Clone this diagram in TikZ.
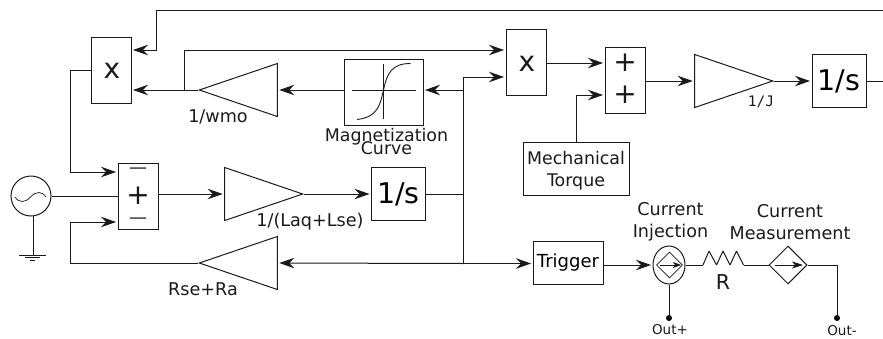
\documentclass[tikz,border=0pt]{standalone}
\usepackage{fontspec}
\setmainfont{DejaVu Sans}
\newfontfamily\monof{DejaVu Sans Mono}
\usetikzlibrary{arrows.meta,shapes.geometric}
\definecolor{ink}{HTML}{1A1A1A}
\tikzset{
  x=1pt,y=-1pt,
  wire/.style={draw=ink,line width=1pt},
  arr/.style={wire,-{Stealth[length=15pt,width=10.5pt,inset=5pt]},shorten >=1.5pt},
  boxn/.style={draw=ink,line width=1pt,rectangle,inner sep=0pt,font=\fontsize{17}{22}\selectfont,align=center},
  mulbox/.style={boxn,minimum width=40pt,minimum height=66pt},
  intbox/.style={boxn,minimum width=54pt,minimum height=53pt,font=\fontsize{28.5}{30}\selectfont},
  tri/.style={draw=ink,line width=1pt,isosceles triangle,isosceles triangle stretches,inner sep=0pt,minimum width=53pt,minimum height=78pt,anchor=apex},
  lab/.style={inner sep=0pt,font=\fontsize{17.6}{22}\selectfont,align=center,text=ink},
  big/.style={inner sep=0pt,font=\fontsize{28}{30}\selectfont,text=ink},
  dashn/.style={inner sep=0pt,font=\fontsize{18}{20}\selectfont,text=ink},
  dotn/.style={circle,fill=black,inner sep=0pt,minimum size=6pt},
}
\begin{document}
\begin{tikzpicture}
\useasboundingbox (0,0) rectangle (883,338);
% blocks
\node[mulbox] (xa) at (111,70) {};
\node[big] (xat) at (112,71) {x};
\node[mulbox] (xb) at (526,62) {};
\node[big] (xbt) at (527,64) {x};
\node[mulbox] (sumb) at (625,80) {};
\node[big] (pa) at (625,63) {+};
\node[big] (pb) at (625,95) {+};
\node[mulbox] (suma) at (138,196) {};
\node[dashn] (ma) at (138,171) {—};
\node[big] (pc) at (138,196) {+};
\node[dashn] (mb) at (138,221) {—};
\node[tri,shape border rotate=180] (gwmo) at (198,90) {};
\node[tri,shape border rotate=180] (grs) at (198,263) {};
\node[tri] (gl) at (304,194) {};
\node[tri] (gj) at (774,81) {};
\node[intbox] (inta) at (398.5,194) {1/s};
\node[intbox] (intb) at (839,81) {1/s};
\node[boxn,minimum width=79pt,minimum height=66pt] (mag) at (383.5,92) {};
\node[boxn,minimum width=106pt,minimum height=53pt] (mech) at (576,168.5) {};
\node[lab,font=\fontsize{17.4}{22}\selectfont] (mecht) at (576,171) {Mechanical\\Torque};
\node[boxn,minimum width=70pt,minimum height=43pt,font=\fontsize{18}{22}\selectfont] (trig) at (568,262.5) {Trigger};
\node[draw=ink,line width=1pt,circle,inner sep=0pt,minimum size=40pt] (src) at (31,196) {};
\node[draw=ink,line width=1pt,ellipse,inner sep=0pt,minimum width=32pt,minimum height=38pt] (inj) at (669,265) {};
\node[draw=ink,line width=.8pt,diamond,inner sep=0pt,minimum width=26pt,minimum height=26pt] (injd) at (669.5,265) {};
\node[draw=ink,line width=1pt,diamond,inner sep=0pt,minimum width=38pt,minimum height=38pt] (meas) at (788,265) {};
\node[dotn] (outp) at (669,318) {};
\node[dotn] (outm) at (837,318) {};
% labels
\node[lab] (lwmo) at (218,117) {1/wmo};
\node[lab] (lrs) at (203,289) {Rse+Ra};
\node[lab] (ll) at (310,222) {1/(Laq+Lse)};
\node[inner sep=0pt,font=\monof\fontsize{14.5}{16}\selectfont,text=ink] (lj) at (761,102) {1/J};
\node[lab,font=\fontsize{17.4}{17}\selectfont] (lmag) at (386.5,142) {Magnetization\\[-4pt]Curve};
\node[lab] (linj) at (670.5,222) {Current\\Injection};
\node[lab] (lmeas) at (790,222) {Current\\Measurement};
\node[lab,font=\fontsize{20.5}{22}\selectfont] (lr) at (723,282) {R};
\node[inner sep=0pt,font=\fontsize{13.5}{15}\selectfont,text=ink] (lop) at (670,330) {Out+};
\node[inner sep=0pt,font=\fontsize{13.5}{15}\selectfont,text=ink] (lom) at (842,330.5) {Out-};
% junctions
\coordinate (jtop) at (883,10);
\coordinate (jtopb) at (156,10);
\coordinate (jw) at (184,90);
\coordinate (jfl) at (463,90);
\coordinate (jfo) at (463,194);
\coordinate (jfb) at (463,263.5);
\coordinate (jfx) at (463,77);
\coordinate (jfa) at (505,50);
\coordinate (jq) at (70,172);
\coordinate (jr) at (70,222);
\coordinate (outr) at (883,81);
\coordinate (ra) at (703,265);
\coordinate (rb) at (743.5,265);
% top feedback
\draw[arr] (jtop) -- (jtopb) -- ++(0,40) -- (xa.east |- 131,50);
% flux loop
\draw[arr] (gwmo.apex) -- (xa.east |- gwmo.apex);
\draw[arr] (jw) |- (xb.west |- jfa);
\draw[arr] (mag.west |- jfl) -- (gwmo.lower side);
\draw[arr] (jfl) -- (mag.east |- jfl);
\draw[arr] (jfx) -- (xb.west |- jfx);
\draw[wire] (jfx) -- (jfb);
\draw[wire] (inta.east |- jfo) -- (jfo);
\draw[arr] (xb.east |- 546,63) -- (sumb.west |- pa);
\draw[arr] (mech.north) -- (mech.north |- pb) -- (sumb.west |- pb);
\draw[arr] (sumb.east |- gj.apex) -- (gj.lower side);
\draw[arr] (gj.apex) -- (intb.west);
\draw[wire] (intb.east) -- (outr);
% left side
\draw[wire] (xa.west) -- (xa.west -| jq) -- (jq);
\draw[arr] (jq) -- (suma.west |- jq);
\draw[arr] (grs.apex) -- (grs.apex -| jr) -- (jr) -- (suma.west |- jr);
\draw[wire] (src.east) -- (suma.west |- src.east);
\draw[arr] (suma.east |- gl.lower side) -- (gl.lower side);
\draw[arr] (gl.apex) -- (inta.west);
\draw[arr] (jfb) -- (grs.lower side);
\draw[arr] (jfb) -- (trig.west |- jfb);
% source symbol
\coordinate (gnd) at (33,255);
\draw[wire] (33,215.5) -- (gnd);
\draw[wire] (19,255) -- (46,255) (25,257.7) -- (40,257.7) (30,260.3) -- (35,260.3);
\draw[draw=ink,line width=.7pt] (15,197) .. controls (19,203) and (25,203) .. (30.5,197) .. controls (36,191) and (42,191) .. (46,197);
% magnetization symbol
\draw[draw=ink,line width=.9pt] (352,90) -- (416,90) (383.5,64) -- (383.5,119);
\draw[draw=ink,line width=.9pt] (357,119.5) .. controls (378,117) and (380,105) .. (383.5,90) .. controls (387,73) and (392,63.5) .. (410.5,63.5);
% output chain
\draw[arr] (trig.east |- inj.west) -- (inj.west);
\draw[wire] (inj.east) -- (ra);
\draw[wire,line join=bevel] (ra) -- (709,251) -- (716.5,265) -- (723,251) -- (730,265) -- (736.5,251) -- (rb);
\draw[wire] (rb) -- (meas.west);
\draw[wire] (meas.east) -- (outm |- meas.east) -- (outm.center);
\draw[wire] (inj.south) -- (outp.center);
\draw[draw=ink,line width=.8pt,-{Stealth[length=8pt,width=6pt,inset=2pt]}] (660,265) -- (681,265);
\draw[draw=ink,line width=.8pt,-{Stealth[length=11pt,width=7pt,inset=3pt]}] (775,265) -- (803,265);
\end{tikzpicture}
\end{document}
